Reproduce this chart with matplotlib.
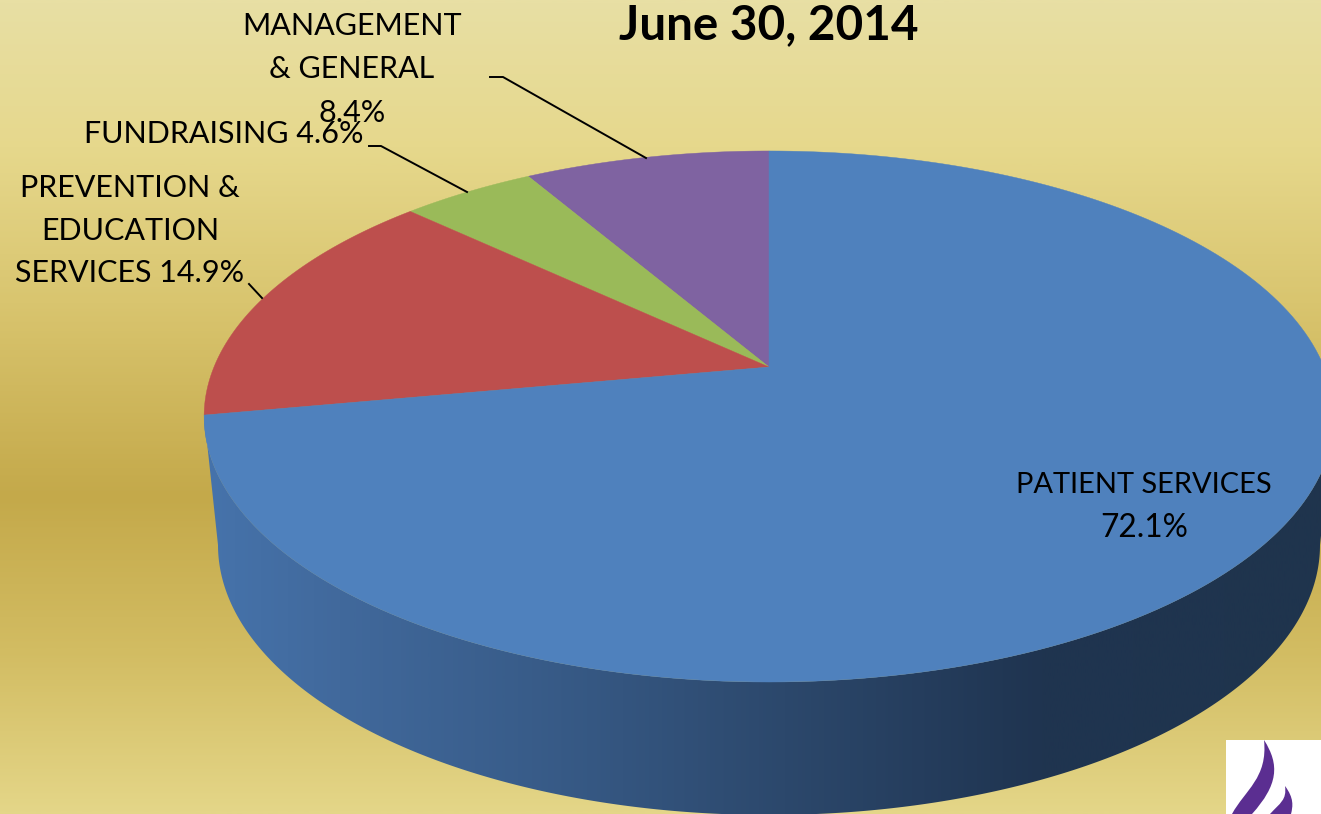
import matplotlib
matplotlib.use('Agg')
import matplotlib.pyplot as plt
import numpy as np
from matplotlib.colors import LinearSegmentedColormap
from matplotlib.patches import PathPatch, Polygon, Rectangle
from matplotlib.path import Path

# shares of expenses, starting at 12 o'clock and going counter-clockwise
categories = ['MANAGEMENT & GENERAL', 'FUNDRAISING', 'PREVENTION & EDUCATION SERVICES', 'PATIENT SERVICES']
values = [8.4, 4.6, 14.9, 72.1]
colors = ['#7f63a1', '#9aba59', '#bd4f4d', '#4f81bd']
title = 'June 30, 2014'

W, H = 1321, 814
plt.rcParams['font.family'] = ['Lato', 'DejaVu Sans']

fig = plt.figure(figsize=(W / 100, H / 100), dpi=100)
ax = fig.add_axes([0, 0, 1, 1])
ax.set_xlim(0, W)
ax.set_ylim(H, 0)
ax.axis('off')

# slide background
bg_stops = [(0.0, '#e8dfa4'), (0.18, '#e6d88c'), (0.37, '#d9c56f'), (0.61, '#c4a94a'),
            (0.8, '#d2bc62'), (1.0, '#e4d688')]
bg = LinearSegmentedColormap.from_list('bg', bg_stops)
ax.imshow(np.linspace(0, 1, 400).reshape(-1, 1), cmap=bg, extent=[0, W, H, 0], aspect='auto', zorder=0)


# tilted pie: circle seen in perspective
def project(frac):
    t = np.pi / 2 + 2 * np.pi * np.asarray(frac) / 100
    u, v = np.cos(t), np.sin(t)
    w = 1 + 0.1864 * v
    return 769 + 555 * u / w, 367 - 256.3 * v / w


# side wall of the big slice, from its left edge to the rightmost point of the rim
edges = np.cumsum([0] + values)
front = np.linspace(edges[3], 72.0, 300)
ux, uy = project(front)
a = np.linspace(np.pi, 0, 300)
lx, ly = 769 + 551 * np.cos(a), 545 + 270 * np.sin(a)
wall = Polygon(np.vstack([np.column_stack([ux, uy]), np.column_stack([lx[::-1], ly[::-1]])]),
               closed=True, fc='none', ec='none', transform=ax.transData)
ax.add_patch(wall)
wall_stops = [(0.0, '#4673ab'), (0.12, '#41699c'), (0.32, '#375a86'), (0.52, '#2c486c'),
              (0.75, '#1f3450'), (1.0, '#1f344d')]
wall_cmap = LinearSegmentedColormap.from_list('wall', wall_stops)
im = ax.imshow(np.linspace(0, 1, 600).reshape(1, -1), cmap=wall_cmap, extent=[204, 1321, H, 0],
               aspect='auto', zorder=1)
im.set_clip_path(wall)

# top face
for i in range(len(values)):
    fr = np.linspace(edges[i], edges[i + 1], 200)
    x, y = project(fr)
    pts = np.vstack([[769, 367], np.column_stack([x, y])])
    ax.add_patch(Polygon(pts, closed=True, fc=colors[i], ec=colors[i], lw=0.3, zorder=2))

ax.set_xlim(0, W)
ax.set_ylim(H, 0)

# leader lines
ax.plot([490, 503, 646], [77, 77, 158], color='black', lw=1.4, zorder=3)
ax.plot([369, 381, 467], [146, 146, 192], color='black', lw=1.4, zorder=3)
ax.plot([249, 262], [284, 298], color='black', lw=1.4, zorder=3)

# labels
ts = dict(fontsize=22, ha='center', va='center', color='black', zorder=4)
ax.text(352, 26, 'MANAGEMENT', **ts)
ax.text(352, 69, '& GENERAL', **ts)
ax.text(352, 113, f'{values[0]}%', **ts)
ax.text(224, 134, f'FUNDRAISING {values[1]}%', **ts)
ax.text(130, 188, 'PREVENTION &', **ts)
ax.text(130, 231, 'EDUCATION', **ts)
ax.text(130, 273, f'SERVICES {values[2]}%', **ts)
ax.text(1144, 485, categories[3], fontsize=20.9, ha='center', va='center', zorder=4)
ax.text(1144, 528, f'{values[3]}%', fontsize=22.8, ha='center', va='center', zorder=4)
ax.text(769, 25, title, fontsize=34.3, fontweight='bold', ha='center', va='center', zorder=4)

# logo in the corner
ax.add_patch(Rectangle((1226, 740), 95, 74, fc='white', ec='none', zorder=5))
c4 = [Path.MOVETO, Path.CURVE4, Path.CURVE4, Path.CURVE4, Path.LINETO, Path.CURVE4, Path.CURVE4, Path.CURVE4]
flame1 = [(1264, 740), (1280, 765), (1278, 785), (1252, 814), (1232, 814), (1245, 790), (1268, 778), (1264, 740)]
flame2 = [(1285, 786), (1294, 798), (1293, 806), (1291, 814), (1270, 814), (1280, 803), (1287, 800), (1285, 786)]
for pts in (flame1, flame2):
    ax.add_patch(PathPatch(Path(pts, c4), fc='#5b2e91', ec='none', zorder=6))

fig.savefig('out.png', dpi=100)
